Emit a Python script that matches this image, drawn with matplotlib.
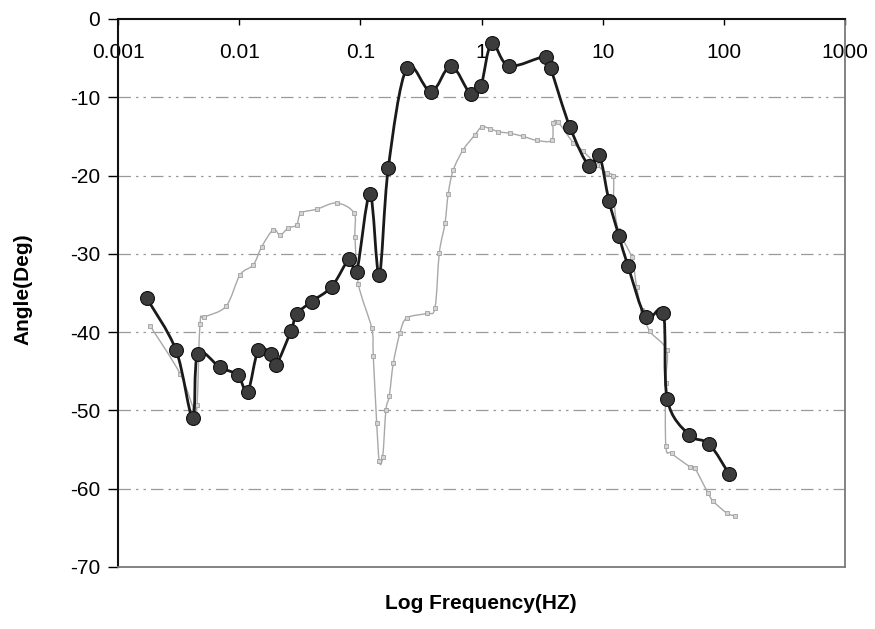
import matplotlib
matplotlib.use("Agg")
import matplotlib.pyplot as plt
import numpy as np
from matplotlib.path import Path
from matplotlib.patches import PathPatch
from matplotlib.ticker import FixedLocator, FixedFormatter

# Phase response, measured (black, circles) and model (grey, small squares)
meas_freq = [0.00173, 0.00301, 0.00413, 0.00455, 0.00694, 0.00972, 0.01175,
             0.01438, 0.0183, 0.0201, 0.0268, 0.0298, 0.0396, 0.058, 0.081,
             0.0932, 0.120, 0.143, 0.170, 0.241, 0.382, 0.559, 0.813, 0.989,
             1.21, 1.68, 3.38, 3.72, 5.36, 7.74, 9.36, 11.25, 13.6, 16.2,
             22.7, 31.6, 34.1, 51.4, 75.6, 110.0]
meas_phase = [-35.7, -42.3, -51.0, -42.8, -44.5, -45.5, -47.6, -42.3, -42.8,
              -44.2, -39.8, -37.7, -36.1, -34.2, -30.7, -32.3, -22.3, -32.7,
              -19.0, -6.3, -9.3, -6.0, -9.6, -8.5, -3.1, -6.0, -4.8, -6.3,
              -13.8, -18.8, -17.4, -23.2, -27.7, -31.6, -38.1, -37.5, -48.6,
              -53.1, -54.3, -58.1]

model_freq = [0.00184, 0.00325, 0.00424, 0.00449, 0.00475, 0.00515, 0.00778,
              0.01015, 0.01307, 0.01533, 0.01912, 0.02171, 0.02542, 0.0298,
              0.03236, 0.0436, 0.0638, 0.0886, 0.0902, 0.0961, 0.1239, 0.1278,
              0.1363, 0.1432, 0.1528, 0.1626, 0.1731, 0.1868, 0.2122, 0.241,
              0.352, 0.4125, 0.448, 0.499, 0.531, 0.584, 0.706, 0.882, 1.002,
              1.173, 1.373, 1.715, 2.208, 2.849, 3.788, 3.905, 4.295, 5.709,
              6.904, 8.906, 10.77, 12.21, 12.37, 13.42, 17.31, 19.04, 20.94,
              24.51, 33.67, 33.0, 33.22, 37.03, 52.42, 57.64, 74.2, 81.6,
              105.3, 123.3]
model_phase = [-39.2, -45.3, -49.9, -49.3, -38.9, -38.1, -36.7, -32.7, -31.4,
               -29.1, -26.9, -27.6, -26.7, -26.3, -24.8, -24.3, -23.5, -24.8,
               -27.8, -33.8, -39.5, -43.1, -51.6, -56.5, -55.9, -49.9, -48.2,
               -44.0, -40.1, -38.2, -37.6, -36.9, -29.9, -26.1, -22.3, -19.3,
               -16.7, -14.8, -13.8, -14.0, -14.4, -14.6, -15.0, -15.5, -15.5,
               -13.3, -13.2, -15.8, -16.9, -18.6, -19.7, -20.1, -23.1, -26.9,
               -30.4, -34.2, -37.2, -39.9, -42.3, -46.5, -54.6, -55.5, -57.2,
               -57.4, -60.6, -61.6, -63.1, -63.5]

x_ticks = [0.001, 0.01, 0.1, 1, 10, 100, 1000]
x_tick_labels = ["0.001", "0.01", "0.1", "1", "10", "100", "1000"]
y_ticks = [0, -10, -20, -30, -40, -50, -60, -70]


def smooth_path(freq, phase):
    """Spreadsheet-style smoothed line: cubic Bezier segments through the
    points, built in (log10 f, phase) space."""
    u = np.log10(np.asarray(freq, float))
    v = np.asarray(phase, float)
    pts = np.column_stack([u, v])
    n = len(pts)
    verts = [pts[0]]
    codes = [Path.MOVETO]
    for i in range(n - 1):
        p0 = pts[i - 1] if i > 0 else pts[i]
        p1, p2 = pts[i], pts[i + 1]
        p3 = pts[i + 2] if i + 2 < n else pts[i + 1]
        c1 = p1 + (p2 - p0) / 6.0
        c2 = p2 - (p3 - p1) / 6.0
        verts += [c1, c2, p2]
        codes += [Path.CURVE4] * 3
    verts = np.array(verts)
    verts[:, 0] = 10 ** verts[:, 0]
    return Path(verts, codes)


plt.rcParams['font.family'] = ['Liberation Sans', 'DejaVu Sans']

fig = plt.figure(figsize=(8.75, 6.29), dpi=100)
ax = fig.add_axes([0.1349, 0.0986, 0.8309, 0.8712])

ax.add_patch(PathPatch(smooth_path(model_freq, model_phase), fill=False,
                       edgecolor='#a8a8a8', lw=1.0, zorder=2))
ax.plot(model_freq, model_phase, ls='none', marker='s', ms=2.6,
        mfc='#d4d4d4', mec='#a0a0a0', mew=0.6, zorder=2)

ax.add_patch(PathPatch(smooth_path(meas_freq, meas_phase), fill=False,
                       edgecolor='#1a1a1a', lw=2.0, zorder=3))
ax.plot(meas_freq, meas_phase, ls='none', marker='o', ms=10,
        mfc='#3c3c3c', mec='#111111', mew=0.8, zorder=4)

ax.set_xscale('log')
ax.set_xlim(0.001, 1000)
ax.set_ylim(-70, 0)

ax.xaxis.set_major_locator(FixedLocator(x_ticks))
ax.xaxis.set_major_formatter(FixedFormatter(x_tick_labels))
ax.xaxis.set_minor_locator(FixedLocator([]))
ax.tick_params(axis='x', bottom=False, labelbottom=False, top=True,
               labeltop=True, direction='in', length=4, width=1,
               pad=-31, labelsize=15)
for lbl in ax.get_xticklabels():
    lbl.set_clip_on(False)

ax.set_yticks(y_ticks)
ax.set_yticklabels([str(v) for v in y_ticks])
ax.tick_params(axis='y', direction='out', length=7, width=1, pad=6,
               labelsize=15)

# dash-dot horizontal gridlines
for v in y_ticks[1:-1]:
    ax.axhline(v, color='#9a9a9a', lw=0.9, ls=(0, (10, 4, 2, 4, 2, 4)),
               zorder=1)

ax.spines['left'].set_color('#111111')
ax.spines['left'].set_linewidth(1.5)
ax.spines['top'].set_color('#111111')
ax.spines['top'].set_linewidth(1.5)
for side in ('right', 'bottom'):
    ax.spines[side].set_color('#7a7a7a')
    ax.spines[side].set_linewidth(1.3)

fig.text(0.549, 0.04, 'Log Frequency(HZ)', ha='center', va='center',
         fontsize=15, fontweight='bold')
fig.text(0.026, 0.54, 'Angle(Deg)', ha='center', va='center',
         rotation=90, fontsize=15, fontweight='bold')

fig.savefig('out.png', dpi=100)
